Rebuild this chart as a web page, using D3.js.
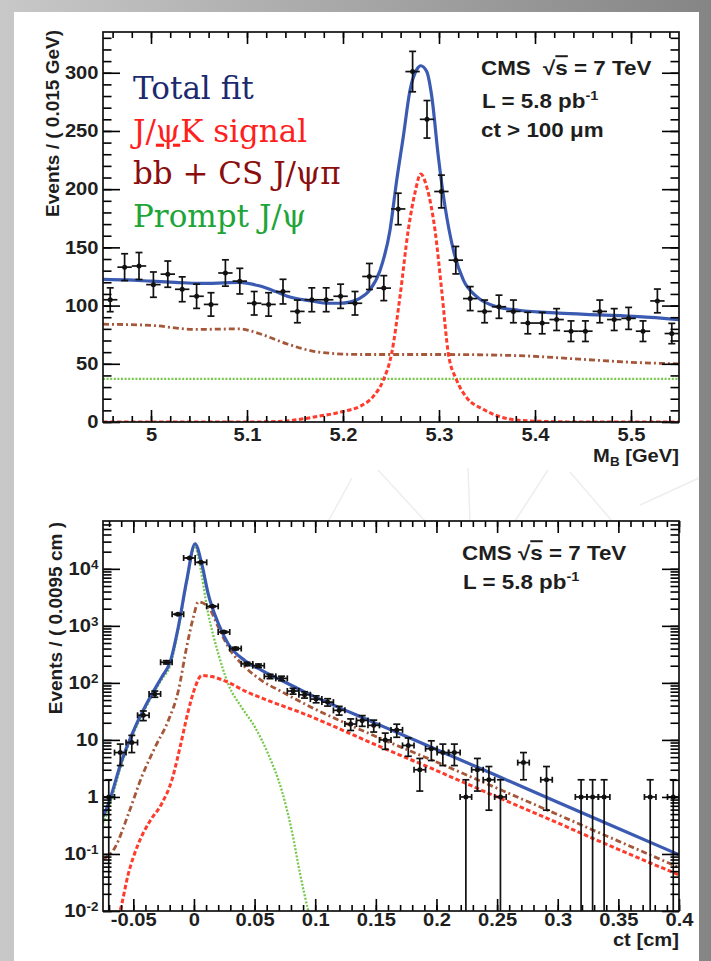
<!DOCTYPE html>
<html lang="en">
<head>
<meta charset="UTF-8">
<title>B+ to J/psi K : mass and ct fit</title>
<script src="https://cdnjs.cloudflare.com/ajax/libs/d3/7.8.5/d3.min.js"></script>
<style>
  html, body { margin: 0; padding: 0; background: #fff; }
  svg { display: block; }
  .root-txt { font-family: "Liberation Sans", Arial, Helvetica, sans-serif; font-weight: bold; fill: #1e1e1e; }
  .slide-txt { font-family: "DejaVu Serif", "Palatino Linotype", serif; }
</style>
</head>
<body>
<svg width="711" height="961"></svg>
<script>
// ---------- mass plot data ----------
const massLo = 4.95, massHi = 5.55, massBinWidth = 0.015;
const massCounts = [105, 133, 134, 118, 127, 114, 108, 101, 128, 121,
                    102, 101, 112, 95, 105, 105, 108, 102, 125, 115,
                    183, 301, 260, 198, 139, 106, 95, 99, 95, 85,
                    85, 88, 78, 78, 95, 88, 89, 78, 104, 76];
const massTotalFit = [[4.95, 122.5], [4.975, 122], [5.0, 121], [5.025, 120], [5.05, 119], [5.075, 119.5],
  [5.092, 120], [5.1125, 117], [5.13, 112], [5.142, 108], [5.167, 104], [5.185, 102], [5.196, 102],
  [5.207, 103], [5.217, 106], [5.228, 113.5], [5.2385, 130], [5.249, 165], [5.256, 208], [5.2628, 245],
  [5.2698, 285], [5.2768, 302.7], [5.281, 306], [5.2872, 301], [5.2924, 280], [5.2993, 228],
  [5.3063, 185], [5.3149, 148], [5.3253, 122], [5.3393, 107.7], [5.3601, 99], [5.383, 96],
  [5.425, 93.5], [5.467, 92], [5.508, 90.5], [5.55, 88]];
const massSignal = [[4.95, 0], [5.10, 0], [5.133, 0.5], [5.175, 5], [5.2, 9], [5.2177, 13.5], [5.2316, 22],
  [5.242, 36], [5.2507, 59], [5.2594, 108], [5.268, 165], [5.275, 197], [5.281, 213], [5.2872, 202],
  [5.2958, 165], [5.3028, 113], [5.3097, 59], [5.3184, 36], [5.3288, 21], [5.346, 11], [5.3635, 4.5],
  [5.383, 1.5], [5.42, 0.3], [5.45, 0], [5.55, 0]];
const massNonPrompt = [[4.95, 84], [5.0, 83], [5.046, 79.5], [5.092, 80], [5.1125, 76], [5.142, 67],
  [5.175, 60], [5.217, 58], [5.3, 58], [5.383, 57], [5.446, 54], [5.508, 51], [5.55, 50]];
const massPrompt = [[4.95, 37], [5.55, 37]];
const massXTicks = [5, 5.1, 5.2, 5.3, 5.4, 5.5];
const massXTickLabels = ["5", "5.1", "5.2", "5.3", "5.4", "5.5"];
const massYTicks = [0, 50, 100, 150, 200, 250, 300];

// ---------- ct plot data ----------
const ctLo = -0.075, ctHi = 0.4, ctBinWidth = 0.0095;
const ctCounts = [1, 6, 9, 27, 64, 230, 1600, 15500, 13000, 2200,
                  780, 400, 215, 200, 130, 120, 72, 62, 52, 46,
                  33, 19, 22, 18, 10, 15, 8, 3, 7, 6,
                  6, 1, 3, 2, 1, 0, 4, 0, 2, 0,
                  0, 1, 1, 1, 0, 0, 0, 1, 0, 1];
const ctTotalFit = [[-0.075, 0.45], [-0.0706, 0.75], [-0.0596, 4.3], [-0.0486, 16.6], [-0.0376, 49],
  [-0.0266, 126], [-0.0197, 229], [-0.0129, 955], [-0.006, 6200], [0.0009, 27500], [0.0064, 12300],
  [0.0118, 3600], [0.0201, 1100], [0.0283, 480], [0.0421, 245], [0.0559, 166], [0.0724, 110],
  [0.0916, 69], [0.15, 19.5], [0.2, 6.8], [0.25, 2.35], [0.3, 0.81], [0.35, 0.28], [0.4, 0.097]];
const ctSignal = [[-0.0625, 0.008], [-0.061, 0.01], [-0.0541, 0.045], [-0.0459, 0.15], [-0.0362, 0.38],
  [-0.0266, 0.76], [-0.0183, 1.95], [-0.0115, 7.4], [-0.0047, 32], [0.0009, 83], [0.0064, 135],
  [0.0146, 129], [0.0283, 102], [0.0421, 72], [0.0613, 49], [0.0902, 29], [0.15, 8.2], [0.2, 2.9],
  [0.25, 1.0], [0.3, 0.35], [0.35, 0.12], [0.4, 0.043]];
const ctNonPrompt = [[-0.075, 0.08], [-0.0651, 0.13], [-0.0541, 0.5], [-0.0431, 2.24], [-0.0321, 7.4],
  [-0.0211, 22], [-0.0129, 72], [-0.006, 427], [-0.0005, 1410], [0.0036, 2630], [0.0118, 2140],
  [0.0201, 955], [0.0283, 427], [0.0421, 190], [0.0559, 110], [0.0724, 70], [0.0902, 44],
  [0.15, 11.5], [0.2, 4.1], [0.25, 1.42], [0.3, 0.49], [0.35, 0.168], [0.4, 0.058]];
const ctPrompt = [[-0.075, 0.35], [-0.0706, 0.6], [-0.0596, 3.8], [-0.0486, 15], [-0.0376, 45],
  [-0.0266, 115], [-0.0197, 200], [-0.0129, 850], [-0.006, 5800], [0.0009, 25000], [0.0036, 15800],
  [0.0118, 1620], [0.0201, 324], [0.0283, 95], [0.0394, 37], [0.0504, 16.6], [0.0613, 5.6],
  [0.0724, 1.3], [0.0806, 0.26], [0.0875, 0.045], [0.0943, 0.01], [0.098, 0.005]];
const ctXTicks = [-0.05, 0, 0.05, 0.1, 0.15, 0.2, 0.25, 0.3, 0.35, 0.4];
const ctXTickLabels = ["-0.05", "0", "0.05", "0.1", "0.15", "0.2", "0.25", "0.3", "0.35", "0.4"];
const ctYTicks = [0.01, 0.1, 1, 10, 100, 1000, 10000];
const ctYTickLabels = [["10", "-2"], ["10", "-1"], ["1", ""], ["10", ""], ["10", "2"], ["10", "3"], ["10", "4"]];

// ---------- slide legend ----------
const legendEntries = [
  { parts: [{ t: "Total fit" }], color: "#1b2a6e" },
  { parts: [{ t: "J/" }, { t: "ψ", under: true }, { t: "K signal" }], color: "#ff1f1f" },
  { parts: [{ t: "bb + CS J/ψπ" }], color: "#8b0d0d" },
  { parts: [{ t: "Prompt J/ψ" }], color: "#1ea53a" }
];

const W = 711, H = 961;
const SX = 1.12;   // the ROOT text in the picture is a bit wide
const svg = d3.select("svg");
const defs = svg.append("defs");

// slide background
const bg = defs.append("linearGradient").attr("id", "bg")
  .attr("x1", 0).attr("x2", 1).attr("y1", 0).attr("y2", 0);
bg.append("stop").attr("offset", 0).attr("stop-color", "#c8c8c8");
bg.append("stop").attr("offset", 1).attr("stop-color", "#858585");
svg.append("rect").attr("width", W).attr("height", H).attr("fill", "url(#bg)");
svg.append("rect").attr("x", 14).attr("y", 12).attr("width", 685).attr("height", H - 12).attr("fill", "#fff");

// faint watermark strokes behind the lower plot
const wm = svg.append("g").attr("fill", "none").attr("stroke", "#eeeeee").attr("stroke-width", 1.5);
[[[318, 540], [352, 478]], [[378, 470], [425, 521]], [[468, 468], [470, 521]],
 [[515, 521], [548, 470]], [[570, 472], [612, 521]], [[640, 505], [699, 478]]]
  .forEach(p => wm.append("path").attr("d", d3.line()(p)));

function rootText(g, x, y, anchor, size, parts) {
  const t = g.append("text")
    .attr("class", "root-txt")
    .attr("transform", `translate(${x},${y}) scale(${SX},1)`)
    .attr("text-anchor", anchor)
    .style("font-size", size + "px");
  parts.forEach(p => {
    const s = t.append("tspan").text(p.t);
    if (p.dy) s.attr("dy", p.dy);
    if (p.dx) s.attr("dx", p.dx);
    if (p.size) s.style("font-size", p.size + "px");
    if (p.over) s.style("text-decoration", "overline");
  });
  return t;
}

function styleTicks(sel, labelSize) {
  sel.select(".domain").remove();
  sel.selectAll(".tick line").attr("stroke-width", 1.6);
  sel.selectAll(".tick text")
    .attr("class", "root-txt")
    .style("font-size", labelSize + "px")
    .attr("transform", `scale(${SX},1)`);
}

function drawPanel(box, x, y, opts) {
  const g = svg.append("g");
  g.append("rect").attr("x", box.l).attr("y", box.t)
    .attr("width", box.r - box.l).attr("height", box.b - box.t).attr("fill", "#fff");

  const clipId = "clip" + opts.id;
  defs.append("clipPath").attr("id", clipId).append("rect")
    .attr("x", box.l).attr("y", box.t).attr("width", box.r - box.l).attr("height", box.b - box.t);
  const plot = g.append("g").attr("clip-path", `url(#${clipId})`);

  const line = d3.line().x(d => x(d[0])).y(d => y(d[1])).curve(d3.curveMonotoneX);
  const curve = (data, color, width, dash) => plot.append("path").datum(data)
    .attr("fill", "none").attr("stroke", color).attr("stroke-width", width)
    .attr("stroke-dasharray", dash).attr("d", line);

  curve(opts.prompt, "#77c94c", 2.3, "2,1.6");
  curve(opts.nonPrompt, "#a5573a", 2.8, "6,3,2,3");
  curve(opts.signal, "#ff3b2b", 3, "4.5,2.5");
  curve(opts.total, "#3b5bb3", 3.2, null);

  // data points with error bars
  const pts = opts.counts.map((n, i) => ({ c: opts.lo + opts.bw * (i + 0.5), n }))
    .filter(d => d.n > 0);
  const ep = plot.append("g").attr("stroke", "#111").attr("stroke-width", 1.7);
  pts.forEach(d => {
    const e = Math.sqrt(d.n);
    const px = x(d.c), py = y(d.n);
    const yHi = y(d.n + e);
    const yLo = d.n - e > 0 ? y(d.n - e) : box.b + 5;
    const xL = x(d.c - opts.bw / 2), xR = x(d.c + opts.bw / 2);
    ep.append("line").attr("x1", px).attr("x2", px).attr("y1", yHi).attr("y2", yLo);
    ep.append("line").attr("x1", xL).attr("x2", xR).attr("y1", py).attr("y2", py);
    ep.append("line").attr("x1", px - 3.5).attr("x2", px + 3.5).attr("y1", yHi).attr("y2", yHi);
    if (d.n - e > 0) ep.append("line").attr("x1", px - 3.5).attr("x2", px + 3.5).attr("y1", yLo).attr("y2", yLo);
    if (opts.hcaps) {
      ep.append("line").attr("x1", xL).attr("x2", xL).attr("y1", py - 3).attr("y2", py + 3);
      ep.append("line").attr("x1", xR).attr("x2", xR).attr("y1", py - 3).attr("y2", py + 3);
    }
    plot.append("circle").attr("cx", px).attr("cy", py).attr("r", 2.5).attr("fill", "#111");
  });

  // axes, ROOT style: ticks inside, on all four sides
  const ax = g.append("g");
  ax.append("g").attr("transform", `translate(0,${box.b})`)
    .call(d3.axisBottom(x).tickValues(opts.xMinor).tickSize(-6).tickFormat(""))
    .call(s => styleTicks(s, 18));
  ax.append("g").attr("transform", `translate(0,${box.b})`)
    .call(d3.axisBottom(x).tickValues(opts.xTicks).tickSize(-12).tickPadding(opts.xPad)
      .tickFormat((d, i) => opts.xLabels[i]))
    .call(s => styleTicks(s, 18));
  ax.append("g").attr("transform", `translate(0,${box.t})`)
    .call(d3.axisTop(x).tickValues(opts.xMinor).tickSize(-6).tickFormat(""))
    .call(s => styleTicks(s, 18));
  ax.append("g").attr("transform", `translate(0,${box.t})`)
    .call(d3.axisTop(x).tickValues(opts.xTicks).tickSize(-12).tickFormat(""))
    .call(s => styleTicks(s, 18));

  ax.append("g").attr("transform", `translate(${box.l},0)`)
    .call(d3.axisLeft(y).tickValues(opts.yMinor).tickSize(-8.5).tickFormat(""))
    .call(s => styleTicks(s, 18));
  const yl = ax.append("g").attr("transform", `translate(${box.l},0)`)
    .call(d3.axisLeft(y).tickValues(opts.yTicks).tickSize(-17).tickPadding(4)
      .tickFormat((d, i) => opts.yLabel(i)))
    .call(s => styleTicks(s, 18));
  if (opts.yLabelParts) {
    yl.selectAll(".tick text").each(function (d, i) {
      const t = d3.select(this).text(null);
      const [base, exp] = opts.yLabelParts[i];
      t.append("tspan").text(base);
      if (exp) t.append("tspan").attr("dy", "-0.5em").style("font-size", "12px").text(exp);
    });
  }
  ax.append("g").attr("transform", `translate(${box.r},0)`)
    .call(d3.axisRight(y).tickValues(opts.yMinor).tickSize(-8.5).tickFormat(""))
    .call(s => styleTicks(s, 18));
  ax.append("g").attr("transform", `translate(${box.r},0)`)
    .call(d3.axisRight(y).tickValues(opts.yTicks).tickSize(-17).tickFormat(""))
    .call(s => styleTicks(s, 18));

  g.append("rect").attr("x", box.l).attr("y", box.t)
    .attr("width", box.r - box.l).attr("height", box.b - box.t)
    .attr("fill", "none").attr("stroke", "#111").attr("stroke-width", 1.7);
  return g;
}

// ---------- upper panel: B mass ----------
const topBox = { l: 103, r: 679, t: 32, b: 422 };
const xM = d3.scaleLinear().domain([massLo, massHi]).range([topBox.l, topBox.r]);
const yM = d3.scaleLinear().domain([0, 335]).range([topBox.b, topBox.t]);
const gTop = drawPanel(topBox, xM, yM, {
  id: "mass", lo: massLo, bw: massBinWidth, counts: massCounts,
  total: massTotalFit, signal: massSignal, nonPrompt: massNonPrompt, prompt: massPrompt,
  xTicks: massXTicks, xLabels: massXTickLabels, xMinor: xM.ticks(30), xPad: 6,
  yTicks: massYTicks, yLabel: i => String(massYTicks[i]), yMinor: yM.ticks(35), hcaps: false
});
gTop.append("text").attr("class", "root-txt")
  .attr("transform", "translate(59,30) rotate(-90)").attr("text-anchor", "end")
  .style("font-size", "19px").text("Events / ( 0.015 GeV)");
rootText(gTop, 679, 462, "end", 18, [{ t: "M" }, { t: "B", size: 12, dy: "4" }, { t: " [GeV]", dy: "-4" }]);
rootText(gTop, 481, 75, "start", 20, [{ t: "CMS" }, { t: "√", dx: 11 }, { t: "s", over: true }, { t: " = 7 TeV" }]);
rootText(gTop, 482, 108, "start", 20, [{ t: "L = 5.8 pb" }, { t: "-1", size: 13, dy: "-8" }]);
rootText(gTop, 481, 137, "start", 20, [{ t: "ct > 100 μm" }]);

legendEntries.forEach((e, i) => {
  const t = gTop.append("text").attr("class", "slide-txt")
    .attr("x", 133).attr("y", 99 + i * 42.7)
    .attr("fill", e.color).style("font-size", "31px");
  e.parts.forEach(p => {
    const s = t.append("tspan").text(p.t);
    if (p.under) s.style("text-decoration", "underline");
  });
});

// ---------- lower panel: ct ----------
const botBox = { l: 103, r: 679, t: 521, b: 911 };
const xC = d3.scaleLinear().domain([ctLo, ctHi]).range([botBox.l, botBox.r]);
const yC = d3.scaleLog().domain([0.01, 69000]).range([botBox.b, botBox.t]);
const gBot = drawPanel(botBox, xC, yC, {
  id: "ct", lo: ctLo, bw: ctBinWidth, counts: ctCounts,
  total: ctTotalFit, signal: ctSignal, nonPrompt: ctNonPrompt, prompt: ctPrompt,
  xTicks: ctXTicks, xLabels: ctXTickLabels, xMinor: xC.ticks(48), xPad: 2,
  yTicks: ctYTicks, yLabel: i => "", yLabelParts: ctYTickLabels, yMinor: yC.ticks(), hcaps: true
});
gBot.append("text").attr("class", "root-txt")
  .attr("transform", "translate(62,522) rotate(-90)").attr("text-anchor", "end")
  .style("font-size", "19px").text("Events / ( 0.0095 cm )");
rootText(gBot, 679, 946, "end", 18, [{ t: "ct [cm]" }]);
rootText(gBot, 462, 560, "start", 20, [{ t: "CMS " }, { t: "√" }, { t: "s", over: true }, { t: " = 7 TeV" }]);
rootText(gBot, 463, 589, "start", 20, [{ t: "L = 5.8 pb" }, { t: "-1", size: 13, dy: "-8" }]);
</script>
</body>
</html>
